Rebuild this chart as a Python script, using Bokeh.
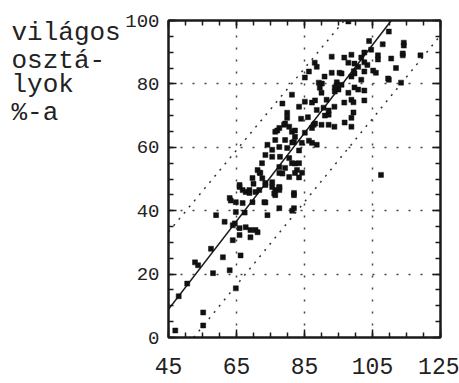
from bokeh.plotting import figure
from bokeh.layouts import row
from bokeh.models import (LinearAxis, FixedTicker, ColumnDataSource,
                          CustomJSTickFormatter, Range1d)
from bokeh.core.properties import value
from bokeh.embed import file_html
from bokeh.resources import INLINE

# --- data -------------------------------------------------------------
# x: index value, y: share of light classes (%)
x_vals = [109.8, 114.2, 113.9, 119.1, 111.9, 109.8, 104.6, 106.6, 106.6, 102.6,
          101.7, 98.8, 96.7, 93.0, 97.9, 100.8, 102.6, 106.0, 101.7, 98.8,
          95.3, 93.0, 90.9, 88.6, 88.0, 86.3, 85.1, 89.2, 89.5, 90.0,
          91.5, 95.0, 95.9, 97.9, 100.8, 98.8, 96.7, 93.8, 90.6, 92.1,
          88.6, 87.2, 85.1, 83.4, 81.3, 79.9, 79.9, 93.8, 92.1, 90.0,
          87.7, 87.2, 98.8, 98.8, 85.1, 82.2, 81.3, 80.5, 76.4, 77.6,
          79.0, 79.3, 76.4, 74.1, 75.5, 77.6, 79.9, 81.9, 84.2, 87.2,
          88.6, 73.5, 75.5, 77.8, 80.5, 81.3, 83.4, 82.8, 79.3, 77.6,
          77.6, 80.5, 82.2, 71.2, 72.0, 69.7, 73.5, 75.5, 65.9, 67.7,
          68.8, 70.6, 76.4, 77.6, 81.9, 107.5, 65.9, 66.8, 68.8, 71.7,
          73.5, 75.5, 76.4, 77.6, 81.9, 63.0, 64.8, 66.8, 69.7, 73.2,
          77.6, 81.9, 59.0, 64.8, 63.9, 65.9, 67.7, 69.1, 70.6, 74.1,
          63.9, 61.0, 66.2, 52.8, 53.7, 58.1, 63.0, 64.8, 55.2, 47.0,
          55.2, 69.1, 71.2, 65.9, 97.9, 104.0, 108.0, 110.5, 103.5, 84.0,
          86.0, 94.5, 99.5, 72.5, 70.0, 61.5, 57.5, 50.5, 48.0,
          81.4, 82.2, 84.3, 83.4, 71.8, 72.6, 77.6, 76.1, 81.4, 63.3,
          67.4, 73.5, 64.5, 78.5, 79.3, 77.0, 82.2, 88.1, 90.1, 93.9,
          92.1, 88.1, 96.8, 86.3, 83.4, 78.5, 114.2, 113.9, 99.7, 102.6,
          105.2, 109.6, 113.4, 95.9, 99.7, 94.4, 99.7, 102.6, 93.9, 99.4,
          102.6, 99.4, 91.0]
y_vals = [96.5, 93.0, 89.0, 89.0, 85.0, 81.3, 90.8, 89.0, 87.7, 89.9,
          88.3, 89.2, 88.3, 88.6, 86.7, 85.4, 83.9, 83.5, 81.3, 82.3,
          83.5, 83.5, 82.3, 85.4, 86.7, 83.9, 82.0, 80.4, 78.8, 77.2,
          75.0, 78.2, 79.7, 77.2, 78.2, 75.0, 74.1, 72.8, 72.5, 70.3,
          71.8, 74.1, 74.4, 72.8, 76.6, 70.9, 69.3, 66.5, 67.1, 67.1,
          67.1, 66.1, 69.3, 66.5, 64.6, 63.3, 64.9, 66.5, 64.9, 66.1,
          67.1, 62.3, 62.3, 60.8, 59.2, 60.1, 59.8, 61.7, 61.4, 61.4,
          60.8, 57.6, 57.0, 57.0, 56.6, 55.0, 55.0, 52.8, 53.5, 53.8,
          51.9, 50.6, 51.9, 52.8, 51.9, 50.3, 48.7, 49.0, 47.5, 45.9,
          46.5, 45.9, 46.5, 47.5, 45.6, 51.3, 48.1, 46.5, 45.6, 46.5,
          48.1, 47.5, 44.9, 46.5, 44.9, 44.0, 42.7, 42.4, 42.7, 42.7,
          40.8, 40.8, 38.6, 39.6, 35.4, 34.5, 34.8, 33.9, 33.9, 38.6,
          30.7, 25.3, 25.9, 23.7, 22.8, 20.3, 21.2, 15.5, 7.9, 2.2,
          3.8, 31.6, 33.2, 32.3, 99.7, 93.5, 92.5, 88.0, 86.0, 69.0,
          69.5, 80.5, 84.0, 55.0, 48.5, 36.5, 28.0, 17.0, 13.0,
          61.5, 54.9, 52.0, 50.5, 52.0, 50.2, 47.3, 45.4, 40.0, 43.2,
          39.4, 42.6, 36.0, 73.8, 67.5, 65.3, 65.3, 74.8, 80.1, 78.9,
          71.6, 67.5, 67.8, 62.1, 59.0, 51.7, 92.1, 89.6, 86.4, 86.8,
          84.2, 81.7, 80.4, 83.3, 83.3, 79.5, 78.9, 77.9, 77.6, 74.2,
          74.8, 71.0, 70.0]

# fitted line (value at x=45 and slope) and the two band lines (end points)
fit_x0, fit_y0, fit_slope = [45.0], [8.9], [1.39]
band_hi_x = [45.0, 96.7]
band_hi_y = [33.3, 100.0]
band_lo_x = [52.4, 125.0]
band_lo_y = [0.0, 95.3]

x_ticks = [45, 65, 85, 105, 125]
y_ticks = [0, 20, 40, 60, 80, 100]
y_title = ["világos", "osztá-", "lyok", "%-a"]

FONT = "Liberation Mono"
INK = "#1a1a1a"
TEXT = "#222222"

# --- title column (left) ----------------------------------------------
TITLE_W = 122
tp = figure(width=TITLE_W, height=383, output_backend="svg",
            toolbar_location=None, x_axis_location=None, y_axis_location=None,
            x_range=Range1d(0, TITLE_W), y_range=Range1d(383, 0),
            min_border=0, min_border_left=0, min_border_right=0,
            min_border_top=0, min_border_bottom=0,
            background_fill_color="white", border_fill_color="white")
tp.frame_align = False
tp.outline_line_color = None
tp.grid.visible = False
tp.text(x=[11] * len(y_title), y=[32, 60, 84, 112], text=y_title,
        text_font=value(FONT), text_font_size="26px", text_color=TEXT,
        text_baseline="alphabetic", text_align="left")

# --- scatter plot (right) ---------------------------------------------
p = figure(width=459 - TITLE_W, height=383, x_range=(45, 125),
           y_range=(0, 100), output_backend="svg", toolbar_location=None,
           x_axis_location=None, y_axis_location=None,
           min_border_left=165 - TITLE_W, min_border_right=19,
           min_border_top=20, min_border_bottom=46,
           background_fill_color="white", border_fill_color="white")
p.frame_align = False
p.outline_line_color = INK
p.outline_line_width = 2

minor_x = list(range(45, 126, 5))
minor_y = list(range(0, 101, 5))
blank = CustomJSTickFormatter(code="return ''")


def style_axis(ax, labels=True, size="23px"):
    ax.axis_line_color = INK
    ax.axis_line_width = 2
    ax.major_tick_in = 8
    ax.major_tick_out = 0
    ax.minor_tick_in = 5
    ax.minor_tick_out = 0
    ax.major_tick_line_color = INK
    ax.minor_tick_line_color = INK
    ax.major_tick_line_width = 1.5
    ax.minor_tick_line_width = 1.5
    ax.major_label_text_font = FONT
    ax.major_label_text_font_size = size
    ax.major_label_text_color = TEXT
    if not labels:
        ax.formatter = blank
        ax.major_label_text_font_size = "0px"
        ax.major_label_standoff = 0


bottom = LinearAxis(ticker=FixedTicker(ticks=x_ticks, minor_ticks=minor_x))
style_axis(bottom)
bottom.major_label_standoff = 20
bottom.major_label_text_line_height = 0.8
p.add_layout(bottom, "below")

top = LinearAxis(ticker=FixedTicker(ticks=x_ticks, minor_ticks=minor_x))
style_axis(top, labels=False)
p.add_layout(top, "above")

left = LinearAxis(ticker=FixedTicker(ticks=y_ticks, minor_ticks=minor_y))
style_axis(left, size="19px")
left.major_label_standoff = 9
p.add_layout(left, "left")

right = LinearAxis(ticker=FixedTicker(ticks=y_ticks, minor_ticks=minor_y))
style_axis(right, labels=False)
p.add_layout(right, "right")

# dotted reference grid
p.xgrid.ticker = FixedTicker(ticks=[65, 85, 105])
p.ygrid.ticker = FixedTicker(ticks=[20, 40, 60, 80])
for g in (p.xgrid, p.ygrid):
    g.grid_line_color = "#444444"
    g.grid_line_dash = "2 10"
    g.grid_line_width = 1.5

# band lines
p.line(band_hi_x, band_hi_y, line_color="#333333", line_width=1.5,
       line_dash="2 6")
p.line(band_lo_x, band_lo_y, line_color="#333333", line_width=1.5,
       line_dash="2 6")

# fitted line, from x=45 up to where it leaves the top of the frame
x_end = fit_x0[0] + (100 - fit_y0[0]) / fit_slope[0]
p.line([fit_x0[0], x_end], [fit_y0[0], 100], line_color=INK, line_width=1.5)

# data points
src = ColumnDataSource(dict(x=x_vals, y=y_vals))
p.scatter("x", "y", source=src, marker="square", size=5,
          fill_color="#111111", line_color="#111111", line_width=0.5)

layout = row(tp, p, spacing=0)
open("out.html", "w").write(file_html(layout, INLINE))
